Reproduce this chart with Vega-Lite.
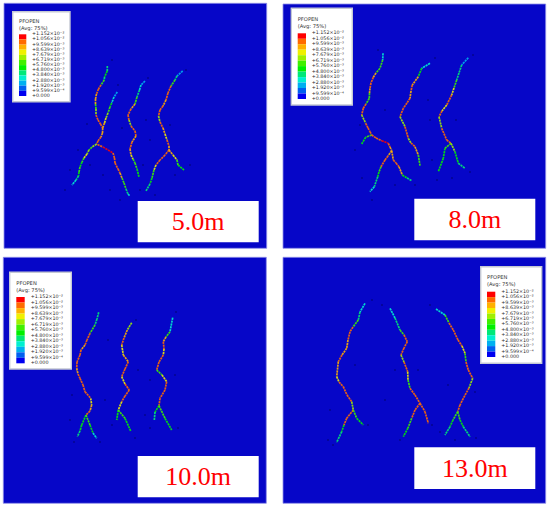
{"$schema":"https://vega.github.io/schema/vega-lite/v6.json","width":550,"height":507,"padding":0,"autosize":"none","background":"white","view":{"stroke":null},
"datasets":{
"panels":[{"x":4,"x2":266.7,"y":3.3,"y2":248.3},{"x":283,"x2":545.7,"y":4,"y2":248.3},{"x":3.3,"x2":266.3,"y":257.3,"y2":503.3},{"x":283,"x2":545.7,"y":257.3,"y2":503.3}],
"boxes":[{"x":12.7,"x2":70,"y":11.7,"y2":101.7},{"x":291.3,"x2":352.3,"y":8.3,"y2":105},{"x":9.7,"x2":71.3,"y":272.3,"y2":369},{"x":480.7,"x2":541.7,"y":266.7,"y2":363.3}],
"heads":[{"x":19,"y":21,"t":"PFOPEN"},{"x":19,"y":27.7,"t":"(Avg: 75%)"},{"x":297.7,"y":19,"t":"PFOPEN"},{"x":297.7,"y":26,"t":"(Avg: 75%)"},{"x":16.3,"y":283,"t":"PFOPEN"},{"x":16.3,"y":289.7,"t":"(Avg: 75%)"},{"x":487,"y":277,"t":"PFOPEN"},{"x":487,"y":284,"t":"(Avg: 75%)"}],
"tags":[{"x":137.7,"x2":258.7,"y":201,"y2":242.3},{"x":414.3,"x2":535.3,"y":198.7,"y2":240.3},{"x":137.7,"x2":258.7,"y":456,"y2":497.3},{"x":414.3,"x2":535.3,"y":447.3,"y2":489}],
"tagText":[{"x":198.2,"y":222,"t":"5.0m"},{"x":474.8,"y":220,"t":"8.0m"},{"x":198.2,"y":477,"t":"10.0m"},{"x":474.8,"y":468.5,"t":"13.0m"}],
"speck":[{"x":87,"y":124},{"x":78,"y":150},{"x":70,"y":170},{"x":65,"y":190},{"x":90,"y":165},{"x":103,"y":175},{"x":110,"y":190},{"x":118,"y":85},{"x":122,"y":128},{"x":146,"y":120},{"x":150,"y":140},{"x":143,"y":165},{"x":120,"y":200},{"x":140,"y":190},{"x":155,"y":195},{"x":175,"y":175},{"x":190,"y":165},{"x":170,"y":125},{"x":186,"y":70},{"x":148,"y":78},{"x":112,"y":60},
{"x":360,"y":125},{"x":355,"y":150},{"x":362,"y":178},{"x":372,"y":200},{"x":395,"y":185},{"x":415,"y":185},{"x":385,"y":110},{"x":378,"y":50},{"x":430,"y":120},{"x":432,"y":160},{"x":437,"y":180},{"x":452,"y":178},{"x":470,"y":172},{"x":473,"y":55},{"x":435,"y":58},{"x":428,"y":100},{"x":456,"y":120},
{"x":72,"y":395},{"x":70,"y":420},{"x":74,"y":442},{"x":100,"y":442},{"x":105,"y":400},{"x":112,"y":425},{"x":108,"y":340},{"x":136,"y":320},{"x":138,"y":370},{"x":145,"y":415},{"x":135,"y":438},{"x":150,"y":380},{"x":176,"y":312},{"x":175,"y":375},{"x":178,"y":428},{"x":150,"y":428},
{"x":330,"y":410},{"x":328,"y":440},{"x":333,"y":445},{"x":368,"y":425},{"x":372,"y":300},{"x":355,"y":365},{"x":382,"y":305},{"x":395,"y":370},{"x":418,"y":370},{"x":400,"y":440},{"x":432,"y":425},{"x":430,"y":305},{"x":448,"y":385},{"x":475,"y":392},{"x":440,"y":432},{"x":476,"y":438},{"x":455,"y":440},{"x":385,"y":400}],
"leg":[
{"p":1,"sx":19,"sx2":26.3,"lx":32,"y":34.3,"t":"+1.152×10⁻²","v":11},{"p":1,"sx":19,"sx2":26.3,"lx":32,"y":39.4,"t":"+1.056×10⁻²","v":10.1},{"p":1,"sx":19,"sx2":26.3,"lx":32,"y":44.6,"t":"+9.599×10⁻³","v":9.1},{"p":1,"sx":19,"sx2":26.3,"lx":32,"y":49.7,"t":"+8.639×10⁻³","v":8.2},{"p":1,"sx":19,"sx2":26.3,"lx":32,"y":54.9,"t":"+7.679×10⁻³","v":7.2},{"p":1,"sx":19,"sx2":26.3,"lx":32,"y":60,"t":"+6.719×10⁻³","v":6.2},{"p":1,"sx":19,"sx2":26.3,"lx":32,"y":65.1,"t":"+5.760×10⁻³","v":5.3},{"p":1,"sx":19,"sx2":26.3,"lx":32,"y":70.3,"t":"+4.800×10⁻³","v":4.3},{"p":1,"sx":19,"sx2":26.3,"lx":32,"y":75.4,"t":"+3.840×10⁻³","v":3.4},{"p":1,"sx":19,"sx2":26.3,"lx":32,"y":80.6,"t":"+2.880×10⁻³","v":2.4},{"p":1,"sx":19,"sx2":26.3,"lx":32,"y":85.7,"t":"+1.920×10⁻³","v":1.4},{"p":1,"sx":19,"sx2":26.3,"lx":32,"y":90.8,"t":"+9.599×10⁻⁴","v":0.5},{"p":1,"sx":19,"sx2":26.3,"lx":32,"y":96,"t":"+0.000","v":0},
{"p":2,"sx":297.7,"sx2":306,"lx":311.7,"y":33.3,"t":"+1.152×10⁻²","v":11},{"p":2,"sx":297.7,"sx2":306,"lx":311.7,"y":38.8,"t":"+1.056×10⁻²","v":10.1},{"p":2,"sx":297.7,"sx2":306,"lx":311.7,"y":44.2,"t":"+9.599×10⁻³","v":9.1},{"p":2,"sx":297.7,"sx2":306,"lx":311.7,"y":49.7,"t":"+8.639×10⁻³","v":8.2},{"p":2,"sx":297.7,"sx2":306,"lx":311.7,"y":55.2,"t":"+7.679×10⁻³","v":7.2},{"p":2,"sx":297.7,"sx2":306,"lx":311.7,"y":60.7,"t":"+6.719×10⁻³","v":6.2},{"p":2,"sx":297.7,"sx2":306,"lx":311.7,"y":66.1,"t":"+5.760×10⁻³","v":5.3},{"p":2,"sx":297.7,"sx2":306,"lx":311.7,"y":71.6,"t":"+4.800×10⁻³","v":4.3},{"p":2,"sx":297.7,"sx2":306,"lx":311.7,"y":77.1,"t":"+3.840×10⁻³","v":3.4},{"p":2,"sx":297.7,"sx2":306,"lx":311.7,"y":82.5,"t":"+2.880×10⁻³","v":2.4},{"p":2,"sx":297.7,"sx2":306,"lx":311.7,"y":88,"t":"+1.920×10⁻³","v":1.4},{"p":2,"sx":297.7,"sx2":306,"lx":311.7,"y":93.5,"t":"+9.599×10⁻⁴","v":0.5},{"p":2,"sx":297.7,"sx2":306,"lx":311.7,"y":99,"t":"+0.000","v":0},
{"p":3,"sx":16.3,"sx2":24.7,"lx":30.7,"y":297,"t":"+1.152×10⁻²","v":11},{"p":3,"sx":16.3,"sx2":24.7,"lx":30.7,"y":302.5,"t":"+1.056×10⁻²","v":10.1},{"p":3,"sx":16.3,"sx2":24.7,"lx":30.7,"y":308.1,"t":"+9.599×10⁻³","v":9.1},{"p":3,"sx":16.3,"sx2":24.7,"lx":30.7,"y":313.6,"t":"+8.639×10⁻³","v":8.2},{"p":3,"sx":16.3,"sx2":24.7,"lx":30.7,"y":319.1,"t":"+7.679×10⁻³","v":7.2},{"p":3,"sx":16.3,"sx2":24.7,"lx":30.7,"y":324.7,"t":"+6.719×10⁻³","v":6.2},{"p":3,"sx":16.3,"sx2":24.7,"lx":30.7,"y":330.2,"t":"+5.760×10⁻³","v":5.3},{"p":3,"sx":16.3,"sx2":24.7,"lx":30.7,"y":335.7,"t":"+4.800×10⁻³","v":4.3},{"p":3,"sx":16.3,"sx2":24.7,"lx":30.7,"y":341.2,"t":"+3.840×10⁻³","v":3.4},{"p":3,"sx":16.3,"sx2":24.7,"lx":30.7,"y":346.8,"t":"+2.880×10⁻³","v":2.4},{"p":3,"sx":16.3,"sx2":24.7,"lx":30.7,"y":352.3,"t":"+1.920×10⁻³","v":1.4},{"p":3,"sx":16.3,"sx2":24.7,"lx":30.7,"y":357.8,"t":"+9.599×10⁻⁴","v":0.5},{"p":3,"sx":16.3,"sx2":24.7,"lx":30.7,"y":363.3,"t":"+0.000","v":0},
{"p":4,"sx":487,"sx2":495.3,"lx":501.3,"y":291.7,"t":"+1.152×10⁻²","v":11},{"p":4,"sx":487,"sx2":495.3,"lx":501.3,"y":297.1,"t":"+1.056×10⁻²","v":10.1},{"p":4,"sx":487,"sx2":495.3,"lx":501.3,"y":302.6,"t":"+9.599×10⁻³","v":9.1},{"p":4,"sx":487,"sx2":495.3,"lx":501.3,"y":308,"t":"+8.639×10⁻³","v":8.2},{"p":4,"sx":487,"sx2":495.3,"lx":501.3,"y":313.5,"t":"+7.679×10⁻³","v":7.2},{"p":4,"sx":487,"sx2":495.3,"lx":501.3,"y":318.9,"t":"+6.719×10⁻³","v":6.2},{"p":4,"sx":487,"sx2":495.3,"lx":501.3,"y":324.3,"t":"+5.760×10⁻³","v":5.3},{"p":4,"sx":487,"sx2":495.3,"lx":501.3,"y":329.8,"t":"+4.800×10⁻³","v":4.3},{"p":4,"sx":487,"sx2":495.3,"lx":501.3,"y":335.2,"t":"+3.840×10⁻³","v":3.4},{"p":4,"sx":487,"sx2":495.3,"lx":501.3,"y":340.7,"t":"+2.880×10⁻³","v":2.4},{"p":4,"sx":487,"sx2":495.3,"lx":501.3,"y":346.1,"t":"+1.920×10⁻³","v":1.4},{"p":4,"sx":487,"sx2":495.3,"lx":501.3,"y":351.6,"t":"+9.599×10⁻⁴","v":0.5},{"p":4,"sx":487,"sx2":495.3,"lx":501.3,"y":357,"t":"+0.000","v":0}
],
"frac":[
{"b":"1a","x":107.3,"y":66,"v":4},{"b":"1a","x":107.3,"y":71,"v":5},{"b":"1a","x":104.5,"y":77,"v":4},{"b":"1a","x":104.3,"y":80,"v":6},{"b":"1a","x":101,"y":85,"v":10},{"b":"1a","x":98.5,"y":89,"v":10},{"b":"1a","x":96.5,"y":94,"v":9},{"b":"1a","x":95.5,"y":99,"v":9},{"b":"1a","x":95.5,"y":104,"v":6},{"b":"1a","x":96,"y":109,"v":7},{"b":"1a","x":96,"y":115,"v":10},{"b":"1a","x":98,"y":120,"v":10},{"b":"1a","x":100.5,"y":124,"v":10},{"b":"1a","x":102.7,"y":128,"v":9},{"b":"1a","x":102.5,"y":133,"v":9},{"b":"1a","x":101,"y":137,"v":10},{"b":"1a","x":98,"y":141,"v":10},{"b":"1a","x":96.7,"y":144,"v":7},{"b":"1a","x":92,"y":147,"v":6},{"b":"1a","x":89,"y":150,"v":7},{"b":"1a","x":87,"y":154,"v":8},{"b":"1a","x":84,"y":158,"v":6},{"b":"1a","x":82,"y":162,"v":5},{"b":"1a","x":80,"y":167,"v":6},{"b":"1a","x":79,"y":172,"v":5},{"b":"1a","x":78.5,"y":176,"v":4},{"b":"1a","x":76,"y":180,"v":3},{"b":"1a","x":72,"y":185,"v":2},
{"b":"1b","x":117.3,"y":92,"v":2},{"b":"1b","x":114,"y":97,"v":3},{"b":"1b","x":111.7,"y":103,"v":5},{"b":"1b","x":110,"y":107,"v":6},{"b":"1b","x":108,"y":113,"v":7},{"b":"1b","x":106,"y":118,"v":8},{"b":"1b","x":104.5,"y":123,"v":9},{"b":"1b","x":102.7,"y":128,"v":9},
{"b":"1c","x":97.5,"y":144.5,"v":10},{"b":"1c","x":103,"y":147,"v":11},{"b":"1c","x":108,"y":150,"v":11},{"b":"1c","x":113,"y":153,"v":10},{"b":"1c","x":114.5,"y":158,"v":10},{"b":"1c","x":115,"y":163,"v":10},{"b":"1c","x":118,"y":169,"v":10},{"b":"1c","x":120,"y":173,"v":9},{"b":"1c","x":122,"y":178,"v":6},{"b":"1c","x":124,"y":183,"v":6},{"b":"1c","x":126,"y":189,"v":4},{"b":"1c","x":128,"y":194,"v":3},{"b":"1c","x":130,"y":196,"v":2},
{"b":"1d","x":145,"y":81,"v":2},{"b":"1d","x":141,"y":85,"v":3},{"b":"1d","x":139.5,"y":90,"v":4},{"b":"1d","x":137,"y":97,"v":6},{"b":"1d","x":135,"y":104,"v":9},{"b":"1d","x":131,"y":109,"v":10},{"b":"1d","x":128,"y":115,"v":10},{"b":"1d","x":129,"y":120,"v":7},{"b":"1d","x":131,"y":126,"v":10},{"b":"1d","x":135,"y":131,"v":10},{"b":"1d","x":136,"y":136,"v":9},{"b":"1d","x":132,"y":142,"v":10},{"b":"1d","x":130,"y":149,"v":9},{"b":"1d","x":131,"y":155,"v":8},{"b":"1d","x":133,"y":159,"v":6},{"b":"1d","x":135,"y":163,"v":6},{"b":"1d","x":137,"y":169,"v":5},{"b":"1d","x":139,"y":177,"v":3},
{"b":"1e","x":182.7,"y":71,"v":2},{"b":"1e","x":177,"y":76,"v":4},{"b":"1e","x":175,"y":80,"v":6},{"b":"1e","x":171,"y":86,"v":10},{"b":"1e","x":168,"y":93,"v":10},{"b":"1e","x":166,"y":100,"v":9},{"b":"1e","x":163,"y":106,"v":10},{"b":"1e","x":160,"y":110,"v":10},{"b":"1e","x":158.5,"y":116,"v":7},{"b":"1e","x":160,"y":122,"v":10},{"b":"1e","x":163,"y":128,"v":9},{"b":"1e","x":165,"y":134,"v":8},{"b":"1e","x":167,"y":140,"v":10},{"b":"1e","x":169,"y":146,"v":9},{"b":"1e","x":169,"y":150,"v":8},
{"b":"1f","x":169,"y":150,"v":10},{"b":"1f","x":165,"y":155,"v":10},{"b":"1f","x":160,"y":160,"v":10},{"b":"1f","x":156,"y":165,"v":8},{"b":"1f","x":154,"y":170,"v":6},{"b":"1f","x":152,"y":178,"v":5},{"b":"1f","x":150,"y":184,"v":4},{"b":"1f","x":146,"y":191,"v":2},
{"b":"1g","x":169,"y":150,"v":9},{"b":"1g","x":173,"y":155,"v":8},{"b":"1g","x":177,"y":160,"v":6},{"b":"1g","x":178,"y":165,"v":5},{"b":"1g","x":184,"y":170,"v":3},
{"b":"2a","x":383,"y":53.3,"v":3},{"b":"2a","x":382.7,"y":60,"v":6},{"b":"2a","x":380,"y":68.3,"v":6},{"b":"2a","x":376,"y":73,"v":9},{"b":"2a","x":373.3,"y":77.3,"v":10},{"b":"2a","x":371,"y":83,"v":10},{"b":"2a","x":370,"y":88.3,"v":9},{"b":"2a","x":369.5,"y":93,"v":6},{"b":"2a","x":369.3,"y":98.3,"v":6},{"b":"2a","x":366,"y":104,"v":10},{"b":"2a","x":363.3,"y":108.3,"v":10},{"b":"2a","x":361.7,"y":115,"v":7},{"b":"2a","x":365.7,"y":123.3,"v":10},{"b":"2a","x":368,"y":128,"v":10},{"b":"2a","x":370,"y":131.7,"v":10},{"b":"2a","x":371.7,"y":135,"v":10},
{"b":"2b","x":371.7,"y":135,"v":6},{"b":"2b","x":365.7,"y":137.3,"v":5},{"b":"2b","x":361.7,"y":144,"v":4},
{"b":"2c","x":371.7,"y":135,"v":10},{"b":"2c","x":376,"y":138,"v":10},{"b":"2c","x":381.7,"y":140.7,"v":11},{"b":"2c","x":388.3,"y":143.3,"v":10},{"b":"2c","x":390,"y":147,"v":9},{"b":"2c","x":391.7,"y":150.7,"v":8},
{"b":"2d","x":391.7,"y":150.7,"v":9},{"b":"2d","x":388,"y":156,"v":10},{"b":"2d","x":385,"y":160,"v":10},{"b":"2d","x":381,"y":166.7,"v":6},{"b":"2d","x":379,"y":172,"v":5},{"b":"2d","x":377.7,"y":176.7,"v":4},{"b":"2d","x":374.3,"y":186.7,"v":3},{"b":"2d","x":370,"y":191.7,"v":2},
{"b":"2e","x":391.7,"y":150.7,"v":9},{"b":"2e","x":393.3,"y":160,"v":10},{"b":"2e","x":396,"y":163,"v":10},{"b":"2e","x":399,"y":166.7,"v":9},{"b":"2e","x":402.3,"y":175,"v":5},{"b":"2e","x":407,"y":178,"v":4},{"b":"2e","x":411.7,"y":180.7,"v":3},
{"b":"2f","x":430,"y":63.3,"v":3},{"b":"2f","x":421.7,"y":68.3,"v":5},{"b":"2f","x":418.3,"y":76.7,"v":9},{"b":"2f","x":412.3,"y":85,"v":10},{"b":"2f","x":411,"y":91,"v":9},{"b":"2f","x":410,"y":98.3,"v":10},{"b":"2f","x":407,"y":103,"v":10},{"b":"2f","x":403.3,"y":108.3,"v":10},{"b":"2f","x":400,"y":116.7,"v":7},{"b":"2f","x":405,"y":126.7,"v":10},{"b":"2f","x":408.3,"y":138.3,"v":7},{"b":"2f","x":411,"y":143,"v":10},{"b":"2f","x":415,"y":146.7,"v":9},{"b":"2f","x":418.3,"y":155,"v":6},{"b":"2f","x":420,"y":165.7,"v":4},
{"b":"2g","x":468.3,"y":57.7,"v":2},{"b":"2g","x":461.7,"y":65,"v":4},{"b":"2g","x":459,"y":73,"v":4},{"b":"2g","x":456.7,"y":80,"v":6},{"b":"2g","x":454,"y":88,"v":8},{"b":"2g","x":451.7,"y":95,"v":10},{"b":"2g","x":446.7,"y":105,"v":8},{"b":"2g","x":442,"y":111,"v":10},{"b":"2g","x":439,"y":116.7,"v":7},{"b":"2g","x":441.7,"y":128.3,"v":10},{"b":"2g","x":446.7,"y":140,"v":10},{"b":"2g","x":451,"y":143.3,"v":8},
{"b":"2h","x":451,"y":143.3,"v":6},{"b":"2h","x":445,"y":148.3,"v":5},{"b":"2h","x":443.3,"y":158.3,"v":5},{"b":"2h","x":438.3,"y":171.7,"v":2},
{"b":"2i","x":451,"y":143.3,"v":7},{"b":"2i","x":455,"y":151.7,"v":5},{"b":"2i","x":458.3,"y":163.3,"v":4},{"b":"2i","x":465,"y":168.3,"v":2},
{"b":"3a","x":98.7,"y":312.3,"v":4},{"b":"3a","x":97,"y":319,"v":4},{"b":"3a","x":95,"y":325,"v":6},{"b":"3a","x":90,"y":333.3,"v":10},{"b":"3a","x":87,"y":340,"v":10},{"b":"3a","x":85,"y":345,"v":9},{"b":"3a","x":81,"y":350,"v":10},{"b":"3a","x":80,"y":355,"v":10},{"b":"3a","x":77,"y":362,"v":10},{"b":"3a","x":76.7,"y":368.3,"v":9},{"b":"3a","x":78,"y":374,"v":10},{"b":"3a","x":80,"y":378.3,"v":10},{"b":"3a","x":83,"y":385,"v":10},{"b":"3a","x":85,"y":391.7,"v":10},{"b":"3a","x":90.7,"y":398.3,"v":8},{"b":"3a","x":91.7,"y":405,"v":9},{"b":"3a","x":90,"y":411,"v":10},{"b":"3a","x":86,"y":415,"v":8},
{"b":"3b","x":86,"y":415,"v":5},{"b":"3b","x":81.7,"y":425,"v":5},{"b":"3b","x":80,"y":431,"v":4},{"b":"3b","x":77.3,"y":436.7,"v":2},
{"b":"3c","x":86,"y":415,"v":6},{"b":"3c","x":90,"y":425,"v":5},{"b":"3c","x":93,"y":433,"v":3},{"b":"3c","x":96.7,"y":438.3,"v":2},
{"b":"3d","x":131.7,"y":322.7,"v":7},{"b":"3d","x":127.3,"y":330,"v":9},{"b":"3d","x":124,"y":338,"v":10},{"b":"3d","x":121.7,"y":345,"v":8},{"b":"3d","x":123.3,"y":355,"v":9},{"b":"3d","x":128.3,"y":361.7,"v":10},{"b":"3d","x":125,"y":369,"v":10},{"b":"3d","x":121.7,"y":376.7,"v":8},{"b":"3d","x":125,"y":384,"v":10},{"b":"3d","x":129.3,"y":390,"v":10},{"b":"3d","x":125,"y":396,"v":10},{"b":"3d","x":121.7,"y":401.7,"v":8},{"b":"3d","x":118.3,"y":410,"v":5},
{"b":"3e","x":118.3,"y":410,"v":5},{"b":"3e","x":116.7,"y":420,"v":3},
{"b":"3f","x":118.3,"y":410,"v":6},{"b":"3f","x":125,"y":418.3,"v":5},{"b":"3f","x":131,"y":431.7,"v":3},
{"b":"3g","x":172.7,"y":317.7,"v":3},{"b":"3g","x":170,"y":331.7,"v":6},{"b":"3g","x":166,"y":337,"v":9},{"b":"3g","x":163.3,"y":341.7,"v":10},{"b":"3g","x":164,"y":349,"v":8},{"b":"3g","x":163.3,"y":355,"v":10},{"b":"3g","x":159,"y":362,"v":10},{"b":"3g","x":156.7,"y":370,"v":6},{"b":"3g","x":162,"y":375,"v":8},{"b":"3g","x":166.7,"y":381.7,"v":10},{"b":"3g","x":165,"y":390,"v":10},{"b":"3g","x":160,"y":398.3,"v":10},{"b":"3g","x":159,"y":405.7,"v":7},
{"b":"3h","x":159,"y":405.7,"v":5},{"b":"3h","x":155,"y":412,"v":4},{"b":"3h","x":154.3,"y":420,"v":3},
{"b":"3i","x":159,"y":405.7,"v":6},{"b":"3i","x":165,"y":418.3,"v":5},{"b":"3i","x":171.7,"y":430,"v":2},
{"b":"4a","x":365,"y":303.3,"v":3},{"b":"4a","x":360,"y":312,"v":4},{"b":"4a","x":358.3,"y":320,"v":6},{"b":"4a","x":353,"y":327,"v":10},{"b":"4a","x":350,"y":331.7,"v":10},{"b":"4a","x":348,"y":340,"v":9},{"b":"4a","x":346.7,"y":348.3,"v":9},{"b":"4a","x":342,"y":355,"v":10},{"b":"4a","x":338.3,"y":361.7,"v":9},{"b":"4a","x":336.7,"y":376.7,"v":8},{"b":"4a","x":339,"y":382,"v":10},{"b":"4a","x":343.3,"y":386.7,"v":10},{"b":"4a","x":347,"y":395,"v":10},{"b":"4a","x":351.7,"y":401.7,"v":7},{"b":"4a","x":353.3,"y":410,"v":10},
{"b":"4b","x":353.3,"y":410,"v":10},{"b":"4b","x":346.7,"y":418.3,"v":10},{"b":"4b","x":344,"y":425,"v":5},{"b":"4b","x":341.7,"y":431.7,"v":4},{"b":"4b","x":336.7,"y":442.3,"v":3},
{"b":"4c","x":353.3,"y":410,"v":6},{"b":"4c","x":356.7,"y":418.3,"v":5},{"b":"4c","x":363.3,"y":425,"v":3},
{"b":"4d","x":390,"y":308.3,"v":3},{"b":"4d","x":395,"y":318,"v":4},{"b":"4d","x":400,"y":330,"v":6},{"b":"4d","x":404,"y":335,"v":10},{"b":"4d","x":407.3,"y":341.7,"v":10},{"b":"4d","x":404,"y":348,"v":10},{"b":"4d","x":401,"y":355,"v":7},{"b":"4d","x":404,"y":362,"v":10},{"b":"4d","x":407.7,"y":371.7,"v":8},{"b":"4d","x":408,"y":380,"v":6},{"b":"4d","x":410,"y":388.3,"v":10},{"b":"4d","x":415,"y":395,"v":10},{"b":"4d","x":420,"y":403.3,"v":7},
{"b":"4e","x":420,"y":403.3,"v":10},{"b":"4e","x":415,"y":410,"v":10},{"b":"4e","x":411.7,"y":418.3,"v":6},{"b":"4e","x":408,"y":428,"v":5},{"b":"4e","x":403.3,"y":436.7,"v":3},
{"b":"4f","x":420,"y":403.3,"v":10},{"b":"4f","x":425,"y":411.7,"v":10},{"b":"4f","x":428.3,"y":423.3,"v":8},
{"b":"4g","x":436,"y":309,"v":3},{"b":"4g","x":445,"y":315,"v":6},{"b":"4g","x":449,"y":323,"v":10},{"b":"4g","x":453.3,"y":330,"v":10},{"b":"4g","x":458,"y":340,"v":10},{"b":"4g","x":462,"y":346,"v":8},{"b":"4g","x":465,"y":353.3,"v":6},{"b":"4g","x":466,"y":362,"v":10},{"b":"4g","x":468.3,"y":370,"v":10},{"b":"4g","x":472.7,"y":378.3,"v":7},{"b":"4g","x":469,"y":388,"v":10},{"b":"4g","x":463.3,"y":398.3,"v":10},{"b":"4g","x":460,"y":405,"v":10},{"b":"4g","x":457.7,"y":411.7,"v":7},
{"b":"4h","x":457.7,"y":411.7,"v":6},{"b":"4h","x":453,"y":420,"v":5},{"b":"4h","x":450,"y":426.7,"v":4},{"b":"4h","x":445,"y":435,"v":2},
{"b":"4i","x":457.7,"y":411.7,"v":6},{"b":"4i","x":460,"y":420,"v":5},{"b":"4i","x":463.3,"y":426.7,"v":4},{"b":"4i","x":470,"y":436.7,"v":2}
]},
"layer":[
{"data":{"name":"panels"},"mark":{"type":"rect","color":"#0606c8","stroke":"#8f8fe8","strokeWidth":0.8},"encoding":{"x":{"field":"x","type":"quantitative","scale":{"domain":[0,550],"nice":false,"zero":false},"axis":null},"x2":{"field":"x2"},"y":{"field":"y","type":"quantitative","scale":{"domain":[0,507],"reverse":true,"nice":false,"zero":false},"axis":null},"y2":{"field":"y2"}}},
{"data":{"name":"speck"},"mark":{"type":"point","shape":"square","filled":true,"size":2,"color":"#000040","opacity":0.6},"encoding":{"x":{"field":"x","type":"quantitative"},"y":{"field":"y","type":"quantitative"}}},
{"data":{"name":"boxes"},"mark":{"type":"rect","color":"#ffffff","stroke":"#c4c8d4","strokeWidth":1.4},"encoding":{"x":{"field":"x","type":"quantitative"},"x2":{"field":"x2"},"y":{"field":"y","type":"quantitative"},"y2":{"field":"y2"}}},
{"data":{"name":"leg"},"transform":[{"window":[{"op":"lead","field":"y","as":"yn"}],"groupby":["p"]},{"filter":"isValid(datum.yn)"}],"mark":{"type":"rect","stroke":null},"encoding":{"x":{"field":"sx","type":"quantitative"},"x2":{"field":"sx2"},"y":{"field":"y","type":"quantitative"},"y2":{"field":"yn"},"color":{"field":"v","type":"quantitative","legend":null,"scale":{"type":"threshold","domain":[0.96,1.92,2.88,3.84,4.8,5.76,6.72,7.68,8.64,9.6,10.56],"range":["#0000f0","#0060f0","#00b0f0","#00f0d0","#00e878","#00f000","#40f000","#a0f000","#f0f000","#ffb000","#ff6a00","#ff0000"]}}}},
{"data":{"name":"leg"},"mark":{"type":"text","align":"left","baseline":"middle","font":"DejaVu Sans","fontSize":4.8,"color":"#2a2a2a"},"encoding":{"x":{"field":"lx","type":"quantitative"},"y":{"field":"y","type":"quantitative"},"text":{"field":"t"}}},
{"data":{"name":"heads"},"mark":{"type":"text","align":"left","baseline":"middle","font":"DejaVu Sans","fontSize":5.2,"color":"#333333"},"encoding":{"x":{"field":"x","type":"quantitative"},"y":{"field":"y","type":"quantitative"},"text":{"field":"t"}}},
{"data":{"name":"tags"},"mark":{"type":"rect","color":"#ffffff"},"encoding":{"x":{"field":"x","type":"quantitative"},"x2":{"field":"x2"},"y":{"field":"y","type":"quantitative"},"y2":{"field":"y2"}}},
{"data":{"name":"tagText"},"mark":{"type":"text","align":"center","baseline":"middle","font":"Liberation Serif","fontSize":26,"color":"#ff0000"},"encoding":{"x":{"field":"x","type":"quantitative"},"y":{"field":"y","type":"quantitative"},"text":{"field":"t"}}},
{"data":{"name":"frac"},"transform":[{"window":[{"op":"lead","field":"x","as":"xn"},{"op":"lead","field":"y","as":"yn"}],"groupby":["b"]},{"filter":"isValid(datum.xn)"}],"mark":{"type":"rule","strokeWidth":1.7,"strokeDash":[2.2,0.7],"opacity":0.9},"encoding":{"x":{"field":"x","type":"quantitative"},"y":{"field":"y","type":"quantitative"},"x2":{"field":"xn"},"y2":{"field":"yn"},"color":{"field":"v","type":"quantitative","legend":null,"scale":{"type":"threshold","domain":[0.96,1.92,2.88,3.84,4.8,5.76,6.72,7.68,8.64,9.6,10.56],"range":["#0000f0","#0060f0","#00b0f0","#00f0d0","#00e878","#00f000","#40f000","#a0f000","#f0f000","#ffb000","#ff6a00","#ff0000"]}}}}
]}
